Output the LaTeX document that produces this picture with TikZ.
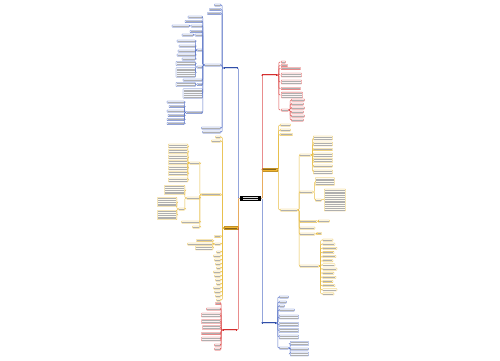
\documentclass[tikz,border=0pt]{standalone}
\definecolor{bluel}{RGB}{92,118,200}
\definecolor{bluef}{RGB}{244,247,254}
\definecolor{blueb}{RGB}{48,78,168}
\definecolor{redl}{RGB}{222,80,80}
\definecolor{redf}{RGB}{253,243,243}
\definecolor{redb}{RGB}{212,46,46}
\definecolor{yell}{RGB}{232,190,70}
\definecolor{yelf}{RGB}{255,252,240}
\definecolor{yelb}{RGB}{242,182,48}
\definecolor{barc}{RGB}{175,175,175}
\newcommand\lns[2]{\vbox{\offinterlineskip\count255=#2\relax\loop\hrule width #1pt height .6pt\advance\count255 by -1\relax\ifnum\count255>0 \vskip 1.2pt\repeat}}
\newcommand\lkL[3]{\draw[#1] (#2.west) -- ++(-1.4,0) |- (#3.east);}
\newcommand\lkR[3]{\draw[#1] (#2.east) -- ++(1.4,0) |- (#3.west);}
\tikzset{
  base/.style={inner xsep=0.7pt, inner ysep=0.8pt, rounded corners=0.5pt, line width=0.3pt, text=barc},
  bl/.style={base, draw=bluel, fill=bluef},
  rd/.style={base, draw=redl, fill=redf},
  yl/.style={base, draw=yell, fill=yelf},
  brb/.style={inner xsep=1pt, inner ysep=1.1pt, fill=blueb, text=white!80!blueb},
  brr/.style={inner xsep=1pt, inner ysep=1.1pt, fill=redb, text=white!80!redb},
  bry/.style={inner xsep=1pt, inner ysep=1.1pt, fill=yelb, draw=yelb!80!black, line width=0.3pt, text=black!45!yelb},
  ctr/.style={inner xsep=3pt, inner ysep=1.4pt, fill=black, text=white!85!black},
  lnb/.style={draw=bluel, line width=0.45pt, rounded corners=1pt},
  lnr/.style={draw=redl, line width=0.45pt, rounded corners=1pt},
  lny/.style={draw=yell, line width=0.45pt, rounded corners=1pt}
}
\begin{document}
\begin{tikzpicture}[x=1pt,y=-1pt]
\fill[white] (0,0) rectangle (500,360);
\useasboundingbox (0,0) rectangle (500,360);

% centre and main branches
\node[ctr] (C) at (250.5,198.5) {\lns{15}{2}};
\node[brb,anchor=east] (B1) at (238,68) {\lns{12}{1}};
\node[brr,anchor=west] (R1) at (262,75) {\lns{13}{1}};
\node[bry,anchor=west] (Y1) at (262,169.5) {\lns{13}{1}};
\node[bry,anchor=east] (Y2) at (238,228) {\lns{12}{1}};
\node[brr,anchor=east] (R2) at (237,330) {\lns{12}{1}};
\node[brb,anchor=west] (B2) at (262,323) {\lns{12}{1}};
\draw[lnb] (C.west) -- ++(-1.5,0) |- (B1.east);
\draw[lnr] (C.west) -- ++(-1.5,0) |- (R2.east);
\draw[lny] (C.west) -- ++(-1.5,0) |- (Y2.east);
\draw[lnr] (C.east) -- ++(1.2,0) |- (R1.west);
\draw[lnb] (C.east) -- ++(1.2,0) |- (B2.west);
\draw[lny] (C.east) -- ++(1.2,0) |- (Y1.west);

% ---------- blue, top left ----------
\foreach \n/\y/\w in {b1a/5/5,b1b/9.5/10,b1c/13.5/12,b1d/65/15,b1e/128/18,b1f/132/17}{
  \node[bl,anchor=east] (\n) at (221,\y) {\lns{\w}{1}};
  \lkL{lnb}{B1}{\n}
}
\foreach \n/\y/\w/\l in {c1/17/13/1,c2/21.5/16/1,c3/26/10/1,c4/31.5/11/1,c5/35/6/1,c6/50/4/1,c7/67/4/1,c8/80/18/1,c9/84.5/4/1,c10/93.5/18/5,c11/112.5/15/1}{
  \node[bl,anchor=east] (\n) at (202.5,\y) {\lns{\w}{\l}};
  \lkL{lnb}{b1d}{\n}
}
\node[bl,anchor=east] (c3a) at (189.5,26) {\lns{16}{1}}; \lkL{lnb}{c3}{c3a}
\node[bl,anchor=east] (c5a) at (193.5,35) {\lns{10}{1}}; \lkL{lnb}{c5}{c5a}
\foreach \i/\y/\w in {1/41/17,2/46/15,3/51/16,4/55/17,5/59/12}{
  \node[bl,anchor=east] (c6-\i) at (195.5,\y) {\lns{\w}{1}};
  \lkL{lnb}{c6}{c6-\i}
}
\node[bl,anchor=east] (c7a) at (195.5,63.5) {\lns{18}{2}}; \lkL{lnb}{c7}{c7a}
\node[bl,anchor=east] (c7b) at (195.5,72.5) {\lns{18}{5}}; \lkL{lnb}{c7}{c7b}
\node[bl,anchor=east] (c9a) at (195.5,84.5) {\lns{18}{2}}; \lkL{lnb}{c9}{c9a}
\foreach \i/\y/\w in {1/102/16,2/106.5/14,3/111/16,4/115.5/15,5/119.5/16,6/123.5/16}{
  \node[bl,anchor=east] (c11-\i) at (184.5,\y) {\lns{\w}{1}};
  \lkL{lnb}{c11}{c11-\i}
}

% ---------- red, top right ----------
\foreach \n/\y/\w/\l in {r1a/62/3/1,r1b/65.5/5/1,r1c/68.5/18/1,r1d/75/19/2,r1e/82/19/2,r1f/88.5/18/1,r1g/95/20/3,r1h/110/6/1}{
  \node[rd,anchor=west] (\n) at (281,\y) {\lns{\w}{\l}};
  \lkR{lnr}{R1}{\n}
}
\foreach \i/\y/\w in {1/100/12,2/104/11,3/108/12,4/112/11,5/116/12,6/120/11}{
  \node[rd,anchor=west] (r1h-\i) at (291,\y) {\lns{\w}{1}};
  \lkR{lnr}{r1h}{r1h-\i}
}

% ---------- yellow, right ----------
\foreach \n/\y/\w in {y1a/125/9,y1b/130/9,y1c/134.5/11,y1d/210/16}{
  \node[yl,anchor=west] (\n) at (280,\y) {\lns{\w}{1}};
  \lkR{lny}{Y1}{\n}
}
\foreach \n/\y/\w in {y1d1/155/10,y1d2/192/12,y1d3/221.5/16,y1d4/228/14,y1d5/234/14,y1d6/266/18}{
  \node[yl,anchor=west] (\n) at (299.5,\y) {\lns{\w}{1}};
  \lkR{lny}{y1d}{\n}
}
\foreach \i/\y/\l in {1/138/2,2/144/2,3/149.5/1,4/155/2,5/160.5/2,6/166/1,7/172/2}{
  \node[yl,anchor=west] (y1d1-\i) at (313,\y) {\lns{18}{\l}};
  \lkR{lny}{y1d1}{y1d1-\i}
}
\node[yl,anchor=west] (y1d2a) at (315,181.5) {\lns{18}{4}}; \lkR{lny}{y1d2}{y1d2a}
\node[yl,anchor=west] (y1d2b) at (315,200) {\lns{5}{1}}; \lkR{lny}{y1d2}{y1d2b}
\node[yl,anchor=west] (y1d2c) at (324,200) {\lns{20}{12}}; \lkR{lny}{y1d2b}{y1d2c}
\node[yl,anchor=west] (y1d3a) at (318,221) {\lns{10}{1}}; \lkR{lny}{y1d3}{y1d3a}
\node[yl,anchor=west] (y1d5a) at (317,233.5) {\lns{3}{1}}; \lkR{lny}{y1d5}{y1d5a}
\foreach \i in {0,...,13}{
  \pgfmathsetmacro\yy{240+4.15*\i}
  \pgfmathsetmacro\ww{int(9+mod(\i*7,5))}
  \node[yl,anchor=west] (y1d6-\i) at (322.5,\yy) {\lns{\ww}{1}};
  \lkR{lny}{y1d6}{y1d6-\i}
}

% ---------- blue, bottom right ----------
\foreach \n/\y/\w/\l in {b2a/297/8/1,b2b/302/6/1,b2c/306/4/1,b2d/310/14/1,b2e/317/18/2,b2f/324.5/18/2,b2g/330.5/18/2,b2h/337/18/2,b2i/348/8/1}{
  \node[bl,anchor=west] (\n) at (279,\y) {\lns{\w}{\l}};
  \lkR{lnb}{B2}{\n}
}
\foreach \i/\y/\l in {1/343.5/2,2/349/1,3/354/2}{
  \node[bl,anchor=west] (b2i-\i) at (290,\y) {\lns{17}{\l}};
  \lkR{lnb}{b2i}{b2i-\i}
}

% ---------- yellow, left ----------
\foreach \n/\y/\w in {y2a/137/4,y2b/141/8,y2c/194.5/18,y2d/236.5/5,y2e/244/5}{
  \node[yl,anchor=east] (\n) at (221,\y) {\lns{\w}{1}};
  \lkL{lny}{Y2}{\n}
}
\foreach \i in {0,...,12}{
  \pgfmathsetmacro\yy{252+4*\i}
  \pgfmathsetmacro\ww{int(3+mod(\i*3,4))}
  \node[yl,anchor=east] (y2s-\i) at (221,\yy) {\lns{\ww}{1}};
  \lkL{lny}{Y2}{y2s-\i}
}
\foreach \n/\y/\w in {y2c1/163/9,y2c2/198/12,y2c3/222/17,y2c4/227/6}{
  \node[yl,anchor=east] (\n) at (200,\y) {\lns{\w}{1}};
  \lkL{lny}{y2c}{\n}
}
\foreach \i/\y in {1/146,2/151.5,3/157,4/162.5,5/168,6/173.5,7/180}{
  \node[yl,anchor=east] (y2c1-\i) at (188,\y) {\lns{18}{2}};
  \lkL{lny}{y2c1}{y2c1-\i}
}
\node[yl,anchor=east] (y2c2a) at (185,190) {\lns{19}{5}}; \lkL{lny}{y2c2}{y2c2a}
\node[yl,anchor=east] (y2c2b) at (185,209) {\lns{5}{1}}; \lkL{lny}{y2c2}{y2c2b}
\node[yl,anchor=east] (y2c2b1) at (177,202) {\lns{18}{5}}; \lkL{lny}{y2c2b}{y2c2b1}
\node[yl,anchor=east] (y2c2b2) at (177,215) {\lns{18}{5}}; \lkL{lny}{y2c2b}{y2c2b2}
\node[yl,anchor=east] (y2e1) at (213,240.5) {\lns{15}{1}}; \lkL{lny}{y2e}{y2e1}
\node[yl,anchor=east] (y2e2) at (213,244) {\lns{24}{1}}; \lkL{lny}{y2e}{y2e2}
\node[yl,anchor=east] (y2e3) at (213,248) {\lns{16}{2}}; \lkL{lny}{y2e}{y2e3}

% ---------- red, bottom left ----------
\foreach \n/\y/\w/\l in {r2a/303.5/4/1,r2b/309/13/1,r2c/315/18/2,r2d/321.5/18/2,r2e/327.5/17/2,r2f/333.5/18/1,r2g/339/18/2,r2h/345/5/1,r2i/349/5/1}{
  \node[rd,anchor=east] (\n) at (221,\y) {\lns{\w}{\l}};
  \lkL{lnr}{R2}{\n}
}
\end{tikzpicture}
\end{document}
